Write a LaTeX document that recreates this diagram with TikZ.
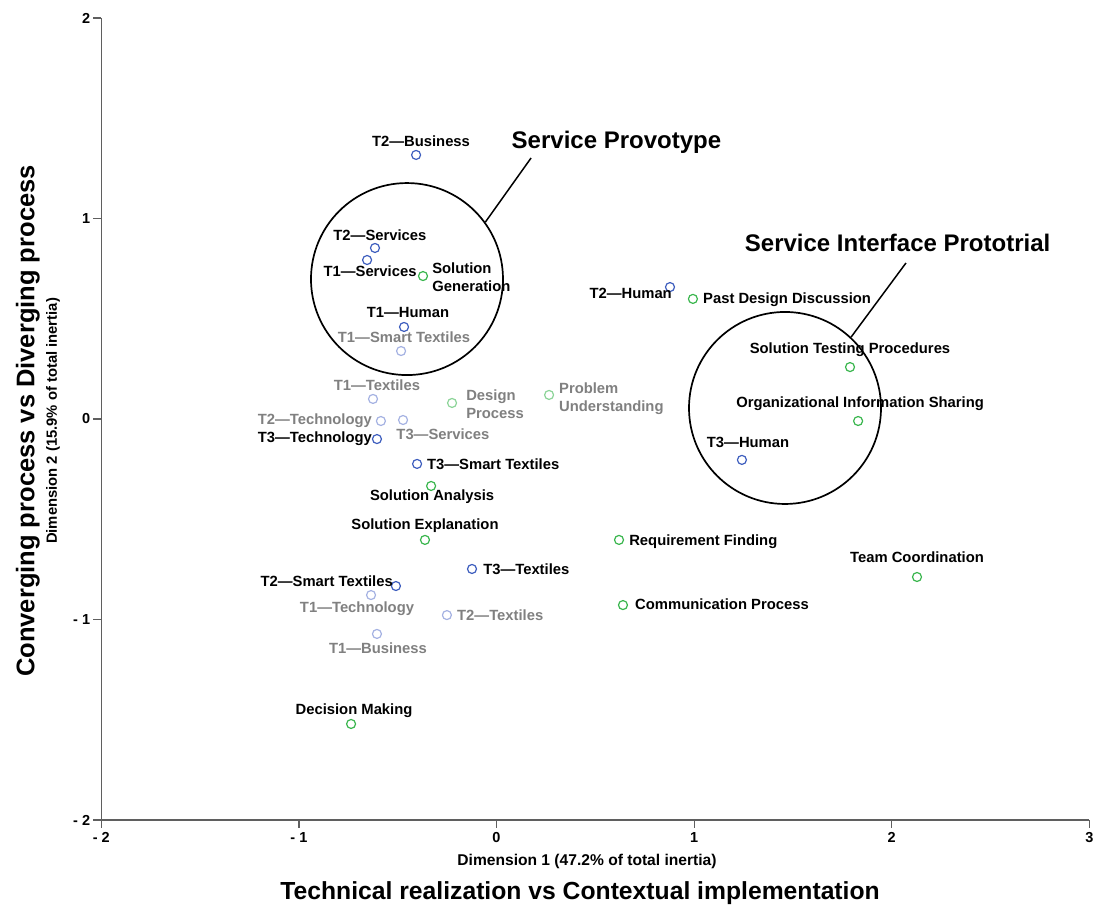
\documentclass[tikz,border=0pt]{standalone}
\usepackage{fontspec}
\setmainfont{Liberation Sans}
\usepackage{tikz}
\usepackage{xcolor}
\usetikzlibrary{positioning}
\definecolor{dkblue}{RGB}{62,94,190}
\definecolor{ltblue}{RGB}{165,178,226}
\definecolor{grn}{RGB}{58,182,78}
\definecolor{ltgrn}{RGB}{140,212,152}
\definecolor{txtgray}{RGB}{128,128,128}
\definecolor{axgray}{RGB}{95,95,95}

\begin{document}
\begin{tikzpicture}[x=197.6pt,y=200.5pt,
  pt/.style={circle,draw,line width=1.2pt,inner sep=0pt,minimum size=9pt},
  dkpt/.style={pt,draw=dkblue},
  ltpt/.style={pt,draw=ltblue},
  grpt/.style={pt,draw=grn},
  lgpt/.style={pt,draw=ltgrn},
  lbl/.style={inner sep=0pt,font=\bfseries\fontsize{14.8}{18.5}\selectfont},
  glbl/.style={lbl,text=txtgray},
  ttl/.style={inner sep=0pt,font=\bfseries\fontsize{24}{27}\selectfont},
  ring/.style={circle,draw=black,line width=1.7pt,inner sep=0pt,minimum size=192pt},
  tick/.style={inner sep=0pt,font=\bfseries\fontsize{14.5}{16}\selectfont}]
\useasboundingbox (-2.5127,-2.4339) rectangle (3.0288,2.0898);

% axes
\coordinate (o) at (-2,-2);
\coordinate (ytop) at (-2,2);
\coordinate (xend) at (3,-2);
\draw[axgray,line width=1.4pt] (ytop) -- (o) -- (xend);
\foreach \v/\t in {-2/{- 2},-1/{- 1},0/0,1/1,2/2} {
  \draw[axgray,line width=1.2pt] (-2,\v) -- ++(-8pt,0);
  \node[tick,anchor=east] (yt\v) at ([xshift=-11pt]-2,\v) {\t};
}
\foreach \v/\t in {-2/{- 2},-1/{- 1},0/0,1/1,2/2,3/3} {
  \draw[axgray,line width=1.2pt] (\v,-2) -- ++(0,-8pt);
  \node[tick,anchor=north] (xt\v) at ([yshift=-12pt]\v,-2) {\t};
}
\node[lbl,font=\bfseries\fontsize{15.6}{17}\selectfont] (dim1) at (0.458,-2.205) {Dimension 1 (47.2\% of total inertia)};
\node[ttl,font=\bfseries\fontsize{24.7}{27}\selectfont] (xtitle) at (0.423,-2.364) {Technical realization vs Contextual implementation};
\node[lbl,font=\bfseries\fontsize{14.8}{16}\selectfont,rotate=90] (dim2) at (-2.244,-0.01) {Dimension 2 (15.9\% of total inertia)};
\node[ttl,font=\bfseries\fontsize{25.5}{28}\selectfont,rotate=90] (ytitle) at (-2.372,-0.01) {Converging process vs Diverging process};

% groups
\node (prov) at (-0.453,0.698) [ring]{};
\node (prot) at (1.460,0.055) [ring]{};
\coordinate (provend) at (0.175,1.302);
\coordinate (protend) at (2.072,0.778);
\draw[line width=1.5pt] (prov.36) -- (provend);
\draw[line width=1.5pt] (prot.47) -- (protend);
\node[ttl] (provttl) at (0.607,1.382) {Service Provotype};
\node[ttl] (protttl) at (2.030,0.878) {Service Interface Prototrial};

% categories
\node (t2bus) at (-0.407,1.317) [dkpt]{};
\node[lbl] (t2busl) at (-0.382,1.387) {T2—Business};
\node (t2ser) at (-0.615,0.853) [dkpt]{};
\node[lbl] (t2serl) at (-0.590,0.918) {T2—Services};
\node (t1ser) at (-0.655,0.793) [dkpt]{};
\node[lbl] (t1serl) at (-0.640,0.738) {T1—Services};
\node (t1hum) at (-0.468,0.459) [dkpt]{};
\node[lbl] (t1huml) at (-0.448,0.529) {T1—Human};
\node (t1sma) at (-0.483,0.339) [ltpt]{};
\node[glbl] (t1smal) at (-0.468,0.409) {T1—Smart Textiles};
\node (t1tex) at (-0.625,0.100) [ltpt]{};
\node[glbl] (t1texl) at (-0.605,0.170) {T1—Textiles};
\node (t2tec) at (-0.585,-0.010) [ltpt]{};
\node[glbl,anchor=east] (t2tecl) at (-0.630,-0.010) {T2—Technology};
\node (t3ser) at (-0.473,-0.005) [ltpt]{};
\node[glbl] (t3serl) at (-0.271,-0.075) {T3—Services};
\node (t3tec) at (-0.605,-0.100) [dkpt]{};
\node[lbl,anchor=east] (t3tecl) at (-0.630,-0.100) {T3—Technology};
\node (t3sma) at (-0.402,-0.224) [dkpt]{};
\node[lbl,anchor=west] (t3smal) at (-0.352,-0.224) {T3—Smart Textiles};
\node (t3tex) at (-0.124,-0.748) [dkpt]{};
\node[lbl,anchor=west] (t3texl) at (-0.068,-0.748) {T3—Textiles};
\node (t2sma) at (-0.509,-0.833) [dkpt]{};
\node[lbl,anchor=east] (t2smal) at (-0.524,-0.808) {T2—Smart Textiles};
\node (t1tec) at (-0.635,-0.878) [ltpt]{};
\node[glbl] (t1tecl) at (-0.706,-0.948) {T1—Technology};
\node (t2tex) at (-0.251,-0.978) [ltpt]{};
\node[glbl,anchor=west] (t2texl) at (-0.200,-0.978) {T2—Textiles};
\node (t1bus) at (-0.605,-1.072) [ltpt]{};
\node[glbl] (t1busl) at (-0.600,-1.142) {T1—Business};
\node (t2hum) at (0.878,0.658) [dkpt]{};
\node[lbl,anchor=east] (t2huml) at (0.888,0.628) {T2—Human};
\node (t3hum) at (1.242,-0.204) [dkpt]{};
\node[lbl] (t3huml) at (1.273,-0.115) {T3—Human};

% activities
\node (solgen) at (-0.372,0.713) [grpt]{};
\node[lbl,anchor=west,align=left] (solgenl) at (-0.326,0.706) {Solution\\Generation};
\node (despro) at (-0.225,0.080) [lgpt]{};
\node[glbl,anchor=west,align=left] (desprol) at (-0.154,0.075) {Design\\Process};
\node (probun) at (0.266,0.120) [lgpt]{};
\node[glbl,anchor=west,align=left] (probunl) at (0.316,0.100) {Problem\\Understanding};
\node (solana) at (-0.331,-0.334) [grpt]{};
\node[lbl] (solanal) at (-0.326,-0.389) {Solution Analysis};
\node (solexp) at (-0.362,-0.603) [grpt]{};
\node[lbl] (solexpl) at (-0.362,-0.534) {Solution Explanation};
\node (pastdd) at (0.994,0.599) [grpt]{};
\node[lbl,anchor=west] (pastddl) at (1.045,0.594) {Past Design Discussion};
\node (soltes) at (1.789,0.259) [grpt]{};
\node[lbl] (soltesl) at (1.789,0.344) {Solution Testing Procedures};
\node (orginf) at (1.830,-0.010) [grpt]{};
\node[lbl] (orginfl) at (1.840,0.075) {Organizational Information Sharing};
\node (reqfin) at (0.620,-0.603) [grpt]{};
\node[lbl,anchor=west] (reqfinl) at (0.671,-0.613) {Requirement Finding};
\node (teamco) at (2.128,-0.788) [grpt]{};
\node[lbl] (teamcol) at (2.128,-0.688) {Team Coordination};
\node (compro) at (0.640,-0.928) [grpt]{};
\node[lbl,anchor=west] (comprol) at (0.701,-0.923) {Communication Process};
\node (decmak) at (-0.736,-1.521) [grpt]{};
\node[lbl] (decmakl) at (-0.721,-1.456) {Decision Making};
\end{tikzpicture}
\end{document}
